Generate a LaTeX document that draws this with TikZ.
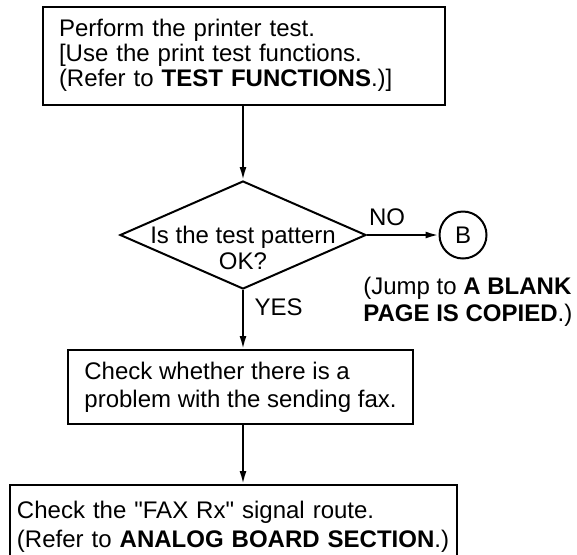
\documentclass[tikz,border=0pt]{standalone}
\usepackage{fontspec}
\setmainfont{Liberation Sans}
\usetikzlibrary{shapes.geometric, arrows.meta}

\newcommand{\lowpad}[1]{\rule[-#1]{0pt}{#1}}

\tikzset{
  stepbox/.style={draw, rectangle, line width=1pt, align=left, inner ysep=0pt},
  decision/.style={draw, diamond, line width=1pt, inner sep=0pt, minimum width=123pt, minimum height=54pt},
  jumpto/.style={draw, circle, line width=1pt, inner sep=0pt, minimum size=23.5pt},
  arr/.style={-{Latex[length=6.5pt,width=3.5pt]}, line width=1pt},
  txt/.style={inner sep=0pt, align=left}
}

\begin{document}
\begin{tikzpicture}[x=0.5pt, y=-0.5pt, font=\fontsize{12}{13.5}\selectfont]
\useasboundingbox (0,0) rectangle (577,554);

% printer test
\node[stepbox, text width=185pt, inner xsep=8pt, minimum height=49pt, font=\fontsize{12}{12.5}\selectfont] (test) at (244,56)
  {Perform the printer test.\\ {[}Use the print test functions.\\ (Refer to \textbf{TEST FUNCTIONS}.)]\lowpad{2.75pt}};

% test pattern OK?
\node[decision, label={[txt, align=center, font=\fontsize{12}{13}\selectfont, yshift=-6.5pt]center:Is the test pattern\\OK?}] (dec) at (243,235) {};

% jump to B
\node[jumpto] (jmpB) at (463,235) {B};
\node[txt, anchor=north west] (jmptxt) at (363,277) {(Jump to \textbf{A BLANK}\\ \textbf{PAGE IS COPIED}.)};

% sending fax
\node[stepbox, minimum width=172.5pt, inner xsep=0pt, minimum height=37pt, font=\fontsize{12}{14}\selectfont] (chk) at (240.5,387)
  {Check whether there is a\\ problem with the sending fax.};

% signal route
\node[stepbox, text width=216.5pt, inner xsep=3.5pt, minimum height=43.5pt, font=\fontsize{12}{14.5}\selectfont] (route) at (233.5,528.5)
  {Check the \textquotedbl FAX Rx\textquotedbl{} signal route.\\ (Refer to \textbf{ANALOG BOARD SECTION}.)\lowpad{3.75pt}};

% connectors
\draw[arr] (dec.north |- test.south) -- (dec.north);
\draw[arr] (dec.east) -- node[above=1pt, pos=0.28] {NO} (jmpB);
\draw[arr] (dec.south) -- node[right=2pt, pos=0.3] {YES} (dec.south |- chk.north);
\draw[arr] (dec.south |- chk.south) -- (dec.south |- route.north);

\end{tikzpicture}
\end{document}
